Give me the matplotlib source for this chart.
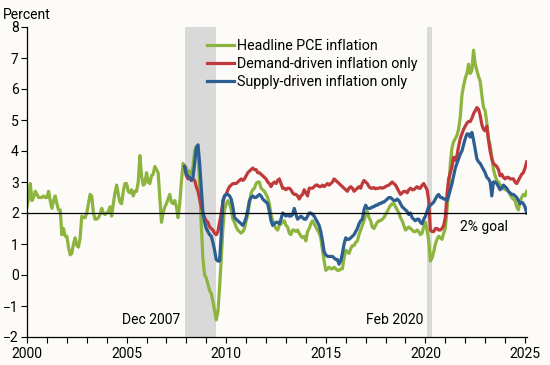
import matplotlib
matplotlib.use("Agg")
import matplotlib.pyplot as plt
import numpy as np

plt.rcParams['font.family'] = ['Roboto', 'DejaVu Sans']

# ---------------- data (monthly, y/y percent) ----------------
headline_start = 2000.0  # Jan 2000
headline = [
    # 2000
    2.2, 2.5, 2.95, 2.4, 2.5, 2.7, 2.6, 2.5, 2.5, 2.5, 2.55, 2.5,
    # 2001
    2.5, 2.7, 2.4, 2.15, 2.4, 2.55, 2.3, 2.1, 2.1, 1.3, 1.5, 1.25,
    # 2002
    1.25, 0.9, 0.65, 0.7, 1.0, 1.2, 0.95, 0.9, 1.2, 1.9, 1.85, 1.85,
    # 2003
    2.0, 2.3, 2.6, 2.55, 2.0, 1.8, 1.8, 1.85, 1.95, 2.15, 2.0, 1.95,
    # 2004
    2.0, 2.05, 2.2, 1.9, 2.3, 2.65, 2.9, 2.6, 2.35, 2.3, 2.7, 2.95,
    # 2005
    2.95, 2.7, 2.65, 2.75, 2.55, 2.7, 2.7, 3.0, 3.85, 3.2, 2.9, 2.95,
    # 2006
    3.3, 3.0, 2.95, 3.2, 3.25, 3.5, 3.4, 3.3, 2.5, 1.7, 2.0, 2.2,
    # 2007
    2.3, 2.45, 2.6, 2.35, 2.3, 2.4, 2.2, 1.85, 2.3, 3.0, 3.6, 3.5,
    # 2008
    3.45, 3.3, 3.35, 3.25, 3.5, 4.0, 4.15, 4.1, 2.9, 1.6, 0.5, 0.0,
    # 2009
    -0.1, -0.3, -0.5, -0.6, -0.85, -1.15, -1.45, -1.2, -0.4, 0.5, 1.5, 2.1,
    # 2010
    2.3, 2.4, 2.3, 2.1, 1.8, 1.7, 1.55, 1.45, 1.4, 1.35, 1.4, 1.5,
    # 2011
    1.75, 1.95, 2.3, 2.65, 2.75, 2.8, 2.95, 3.0, 3.0, 2.8, 2.75, 2.7,
    # 2012
    2.6, 2.5, 2.3, 1.95, 1.75, 1.6, 1.5, 1.45, 1.6, 1.65, 1.7, 1.75,
    # 2013
    1.6, 1.55, 1.35, 1.3, 1.45, 1.45, 1.4, 1.45, 1.35, 1.25, 1.2, 1.25,
    # 2014
    1.1, 1.4, 1.5, 1.65, 1.75, 1.65, 1.55, 1.45, 1.35, 1.2, 0.8, 0.45,
    # 2015
    0.15, 0.2, 0.25, 0.2, 0.2, 0.25, 0.2, 0.15, 0.15, 0.2, 0.2, 0.55,
    # 2016
    0.8, 0.75, 0.7, 0.85, 0.95, 0.95, 1.05, 1.1, 1.3, 1.45, 1.6, 1.75,
    # 2017
    1.95, 2.05, 1.85, 1.75, 1.55, 1.5, 1.6, 1.7, 1.75, 1.75, 1.8, 1.85,
    # 2018
    1.95, 2.05, 2.15, 2.25, 2.3, 2.3, 2.2, 2.1, 2.0, 1.85, 1.75, 1.6,
    # 2019
    1.45, 1.5, 1.55, 1.5, 1.45, 1.4, 1.4, 1.45, 1.4, 1.3, 1.35, 1.55,
    # 2020
    1.7, 1.45, 1.1, 0.45, 0.55, 0.75, 1.0, 1.15, 1.25, 1.2, 1.15, 1.35,
    # 2021
    1.5, 2.1, 2.7, 3.6, 4.1, 4.3, 4.4, 4.5, 4.7, 5.1, 5.8, 6.1,
    # 2022
    6.35, 6.5, 6.8, 6.5, 6.6, 7.25, 6.8, 6.6, 6.4, 6.25, 5.8, 5.4,
    # 2023
    5.3, 4.9, 4.4, 4.2, 3.8, 3.4, 3.2, 3.05, 3.0, 2.9, 2.85, 2.8,
    # 2024
    2.75, 2.75, 2.7, 2.6, 2.5, 2.45, 2.4, 2.2, 2.1, 2.4, 2.5, 2.6,
    # 2025
    2.55, 2.7,
]

decomp_start = 2007 + 11 / 12  # Dec 2007
demand = [
    3.5,
    # 2008
    3.2, 3.1, 3.15, 3.05, 3.1, 3.05, 2.85, 2.7, 2.45, 2.2, 2.0, 1.85,
    # 2009
    1.75, 1.7, 1.55, 1.5, 1.45, 1.35, 1.3, 1.4, 1.7, 2.0, 2.35, 2.55,
    # 2010
    2.6, 2.75, 2.85, 2.9, 2.95, 2.95, 2.95, 3.0, 3.05, 3.1, 3.05, 3.1,
    # 2011
    3.2, 3.3, 3.35, 3.4, 3.45, 3.4, 3.4, 3.3, 3.3, 3.25, 3.2, 3.15,
    # 2012
    3.1, 3.0, 2.95, 2.85, 2.95, 3.0, 2.95, 3.05, 3.1, 2.95, 2.8, 2.8,
    # 2013
    2.75, 2.8, 2.8, 2.75, 2.65, 2.6, 2.6, 2.55, 2.45, 2.55, 2.6, 2.75,
    # 2014
    2.65, 2.55, 2.8, 2.8, 2.8, 2.85, 2.9, 2.9, 2.85, 2.85, 2.9, 2.85,
    # 2015
    2.9, 2.95, 2.9, 2.95, 3.0, 3.1, 3.05, 3.0, 2.95, 2.9, 2.85, 2.8,
    # 2016
    2.75, 2.7, 2.8, 2.85, 2.8, 2.7, 2.75, 2.8, 2.85, 2.8, 2.95, 3.05,
    # 2017
    3.0, 2.95, 2.85, 2.8, 2.8, 2.82, 2.78, 2.8, 2.8, 2.82, 2.8, 2.82,
    # 2018
    2.85, 2.88, 2.9, 2.95, 3.0, 2.95, 2.9, 2.8, 2.7, 2.6, 2.65, 2.7,
    # 2019
    2.7, 2.65, 2.75, 2.8, 2.75, 2.75, 2.8, 2.85, 2.8, 2.8, 2.9, 2.95,
    # 2020
    2.85, 2.75, 2.4, 1.45, 1.4, 1.4, 1.5, 1.5, 1.45, 1.45, 1.5, 1.6,
    # 2021
    1.85, 2.6, 3.1, 3.3, 3.5, 3.8, 3.7, 3.85, 4.15, 4.4, 4.55, 4.7,
    # 2022
    4.8, 4.9, 4.95, 4.95, 5.05, 5.2, 5.3, 5.4, 5.35, 5.15, 4.85, 4.7,
    # 2023
    4.65, 4.8, 4.35, 4.0, 3.75, 3.6, 3.55, 3.5, 3.4, 3.2, 3.25, 3.15,
    # 2024
    3.1, 3.15, 3.15, 3.1, 3.1, 3.1, 3.0, 2.95, 3.05, 3.15, 3.25, 3.3,
    # 2025
    3.45, 3.65,
]

supply = [
    3.5,
    # 2008
    3.25, 3.2, 3.15, 3.05, 3.15, 3.6, 4.1, 4.2, 3.6, 2.8, 2.0, 1.7,
    # 2009
    1.5, 1.4, 1.3, 1.25, 1.05, 0.8, 0.5, 0.45, 0.45, 1.3, 2.4, 2.55,
    # 2010
    2.6, 2.6, 2.55, 2.45, 2.2, 1.85, 1.8, 1.75, 1.7, 1.65, 1.6, 1.7,
    # 2011
    1.85, 2.1, 2.4, 2.5, 2.55, 2.5, 2.5, 2.55, 2.6, 2.55, 2.45, 2.4,
    # 2012
    2.35, 2.3, 2.05, 1.75, 1.6, 1.65, 1.7, 1.7, 1.65, 1.8, 2.0, 1.95,
    # 2013
    1.9, 1.95, 1.9, 1.9, 1.95, 2.15, 1.95, 1.8, 1.85, 1.9, 1.85, 1.8,
    # 2014
    1.8, 1.9, 2.0, 2.0, 1.95, 1.9, 1.8, 1.7, 1.6, 1.4, 1.1, 0.75,
    # 2015
    0.65, 0.6, 0.6, 0.6, 0.6, 0.55, 0.5, 0.5, 0.35, 0.45, 0.7, 1.0,
    # 2016
    1.2, 1.15, 1.15, 1.2, 1.25, 1.3, 1.4, 1.5, 1.65, 1.75, 1.8, 2.1,
    # 2017
    2.25, 2.15, 2.15, 2.15, 2.2, 2.2, 2.25, 2.25, 2.3, 2.3, 2.35, 2.35,
    # 2018
    2.4, 2.45, 2.5, 2.5, 2.45, 2.4, 2.4, 2.45, 2.4, 2.3, 2.2, 2.15,
    # 2019
    2.1, 2.05, 1.95, 2.0, 1.85, 1.8, 1.75, 1.8, 1.8, 1.7, 1.65, 1.8,
    # 2020
    1.9, 2.05, 2.2, 2.25, 2.3, 2.35, 2.45, 2.55, 2.6, 2.5, 2.5, 2.45,
    # 2021
    2.45, 2.4, 2.55, 2.75, 2.95, 3.2, 3.45, 3.6, 3.75, 3.9, 4.0, 4.2,
    # 2022
    4.4, 4.55, 4.55, 4.45, 4.6, 4.35, 4.05, 3.75, 3.65, 3.6, 3.5, 3.4,
    # 2023
    3.3, 3.15, 3.1, 3.0, 2.55, 3.0, 3.0, 2.95, 2.85, 2.75, 2.8, 2.9,
    # 2024
    2.85, 2.8, 2.7, 2.65, 2.6, 2.6, 2.55, 2.5, 2.4, 2.3, 2.35, 2.3,
    # 2025
    2.2, 2.0,
]

series_labels = ["Headline PCE inflation", "Demand-driven inflation only",
                 "Supply-driven inflation only"]
recessions = [(2007 + 11 / 12, 2009.5), (2020 + 1 / 12, 2020 + 4 / 12)]
recession_labels = ["Dec 2007", "Feb 2020"]
goal = 2.0
x_ticks = [2000, 2005, 2010, 2015, 2020, 2025]
y_ticks = list(range(-2, 9))

# ---------------- styling ----------------
BG = "#FCFBF7"
GREEN = "#8CB43F"
RED = "#C0393B"
BLUE = "#2C5E91"
SHADE = "#D9D9D9"

fig = plt.figure(figsize=(5.5, 3.65), dpi=100, facecolor=BG)
ax = fig.add_axes([27 / 550, 28 / 365, 500 / 550, 310 / 365], facecolor=BG)

x_head = headline_start + np.arange(len(headline)) / 12
x_dec = decomp_start + np.arange(len(demand)) / 12

for (a, b) in recessions:
    ax.axvspan(a, b, color=SHADE, lw=0, zorder=0)

lw = 2.3
ax.plot(x_head, headline, color=GREEN, lw=lw, label=series_labels[0], zorder=2,
        solid_joinstyle='round')
ax.plot(x_dec, demand, color=RED, lw=lw, label=series_labels[1], zorder=3,
        solid_joinstyle='round')
ax.plot(x_dec, supply, color=BLUE, lw=lw, label=series_labels[2], zorder=4,
        solid_joinstyle='round')

ax.axhline(goal, color="black", lw=0.9, zorder=5)

ax.set_xlim(2000, 2025.1)
ax.set_ylim(-2, 8)

ax.set_xticks(x_ticks)
ax.set_xticks(np.arange(2000, 2026), minor=True)
ax.set_yticks(y_ticks)
ax.tick_params(axis='both', which='both', direction='out', length=4,
               width=0.8, labelsize=10, colors='black', pad=2)
ax.tick_params(axis='x', pad=3)

for s in ['top', 'right']:
    ax.spines[s].set_visible(False)
for s in ['left', 'bottom']:
    ax.spines[s].set_linewidth(0.9)
    ax.spines[s].set_color('black')

fig.text(3 / 550, 1 - 15 / 365, "Percent", fontsize=10, ha='left', va='center')

ax.text(recessions[0][0] - 0.2, -1.45, recession_labels[0], fontsize=10,
        ha='right', va='center')
ax.text(recessions[1][0] - 0.2, -1.45, recession_labels[1], fontsize=10,
        ha='right', va='center')
ax.text(2021.75, 1.55, "2% goal", fontsize=10, ha='left', va='center')

leg = ax.legend(loc='upper left', bbox_to_anchor=(0.36, 0.962), frameon=False,
                fontsize=10.3, handlelength=1.9, handletextpad=0.22,
                labelspacing=0.28, borderaxespad=0, borderpad=0)

fig.savefig("out.png", dpi=100, facecolor=BG)
